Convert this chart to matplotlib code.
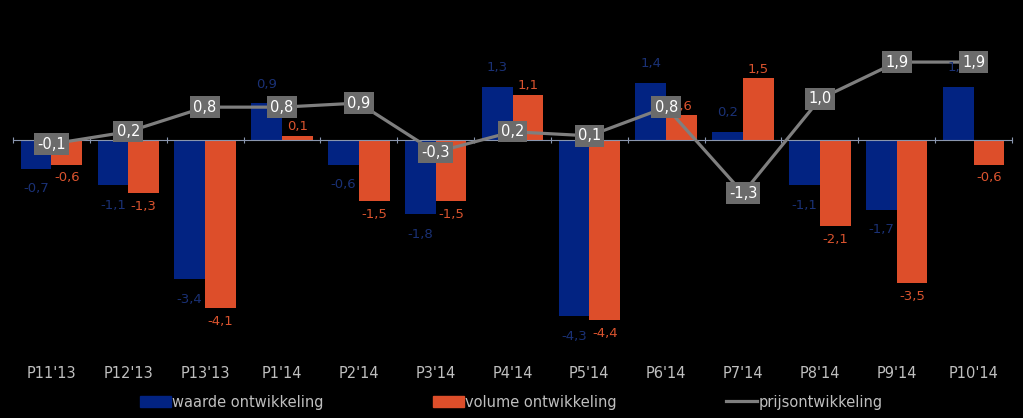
import matplotlib

matplotlib.use("Agg")
import matplotlib.pyplot as plt
import numpy as np
from matplotlib.lines import Line2D
from matplotlib.patches import Patch

periods = ["P11'13", "P12'13", "P13'13", "P1'14", "P2'14", "P3'14", "P4'14",
           "P5'14", "P6'14", "P7'14", "P8'14", "P9'14", "P10'14"]
waarde = [-0.7, -1.1, -3.4, 0.9, -0.6, -1.8, 1.3, -4.3, 1.4, 0.2, -1.1, -1.7, 1.3]
volume = [-0.6, -1.3, -4.1, 0.1, -1.5, -1.5, 1.1, -4.4, 0.6, 1.5, -2.1, -3.5, -0.6]
prijs = [-0.1, 0.2, 0.8, 0.8, 0.9, -0.3, 0.2, 0.1, 0.8, -1.3, 1.0, 1.9, 1.9]

BLUE = "#022382"
ORANGE = "#DD4E2A"
GREY = "#7F7F7F"
BLUE_TXT = "#1A3175"
ORANGE_TXT = "#D9532E"
TICK_TXT = "#BFBFBF"


def fmt(v):
    return f"{v:.1f}".replace(".", ",")


fig = plt.figure(figsize=(10.23, 4.18), dpi=100, facecolor="black")
ax = fig.add_axes([13 / 1023, 1 - 353 / 418, 999 / 1023, 336 / 418])
ax.set_facecolor("black")

x = np.arange(len(periods))
w = 0.4
ax.bar(x - w / 2, waarde, w, color=BLUE, zorder=2)
ax.bar(x + w / 2, volume, w, color=ORANGE, zorder=2)
ax.plot(x, prijs, color=GREY, lw=2.3, zorder=3)

for xi, v in zip(x, waarde):
    ax.annotate(fmt(v), (xi - w / 2, v), xytext=(0, 9 if v >= 0 else -10),
                textcoords="offset points", ha="center",
                va="bottom" if v >= 0 else "top", color=BLUE_TXT, fontsize=9.5, zorder=4)
for xi, v in zip(x, volume):
    ax.annotate(fmt(v), (xi + w / 2, v), xytext=(0, 2 if v >= 0 else -5),
                textcoords="offset points", ha="center",
                va="bottom" if v >= 0 else "top", color=ORANGE_TXT, fontsize=9.5, zorder=4)
for xi, v in zip(x, prijs):
    ax.text(xi, v, fmt(v), ha="center", va="center", color="white", fontsize=10.5, zorder=5,
            bbox=dict(boxstyle="square,pad=0.22", fc="#6B6B6B", ec="none"))

ax.set_xlim(-0.5, len(periods) - 0.5)
ax.set_ylim(-5.2, 3.0)
for s in ["top", "right", "left"]:
    ax.spines[s].set_visible(False)
ax.spines["bottom"].set_position(("data", 0))
ax.spines["bottom"].set_color("#8A96AE")
ax.spines["bottom"].set_linewidth(0.8)
ax.spines["bottom"].set_zorder(2.5)
ax.set_yticks([])
ax.set_xticks(np.arange(len(periods) + 1) - 0.5)
ax.set_xticklabels([])
ax.tick_params(axis="x", direction="inout", length=5, color="#8A96AE", width=0.8)

trans = ax.get_xaxis_transform()
for xi, lab in zip(x, periods):
    ax.text(xi, -0.06, lab, transform=trans, ha="center", va="center",
            color=TICK_TXT, fontsize=10.5)

handles = [Patch(color=BLUE), Patch(color=ORANGE), Line2D([], [], color=GREY, lw=2.3)]
labels = ["waarde ontwikkeling", "volume ontwikkeling", "prijsontwikkeling"]
leg = fig.legend(handles, labels, loc="center", bbox_to_anchor=(0.5, 1 - 402 / 418), ncol=3,
                 frameon=False, fontsize=10.5, handlelength=2.1, handleheight=0.8,
                 handletextpad=0.1, columnspacing=7.5, labelcolor=TICK_TXT)

fig.savefig("out.png", dpi=100, facecolor="black")
